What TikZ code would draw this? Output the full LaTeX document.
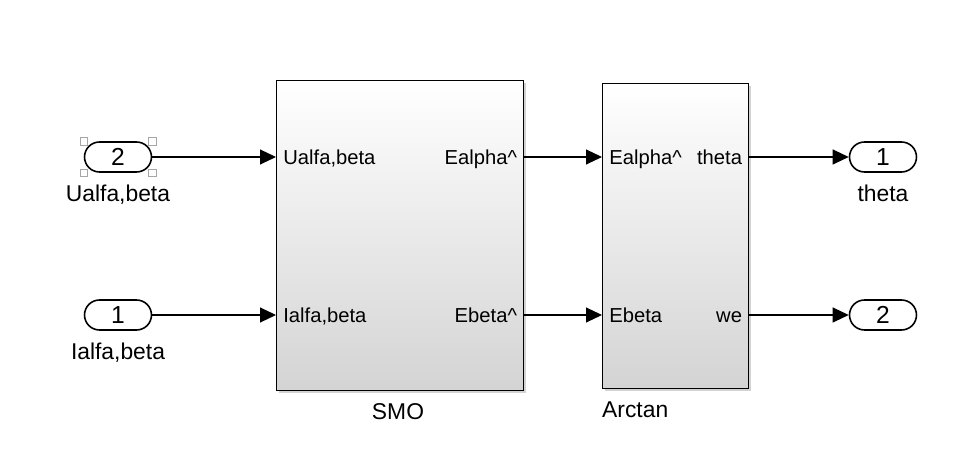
\documentclass[tikz,border=0pt]{standalone}
\usepackage{fontspec}
\setmainfont{Liberation Sans}
\usetikzlibrary{arrows.meta,shadows}

\begin{document}
\begin{tikzpicture}[x=0.02cm,y=-0.02cm,
  port/.style={draw,line width=0.9pt,rounded corners=0.3cm,minimum width=1.34cm,minimum height=0.6cm,inner sep=0pt,font=\fontsize{14}{16}\selectfont},
  blk/.style={draw,line width=0.8pt,anchor=north west,inner sep=0pt,top color=white,middle color=white,bottom color=black!17,
    drop shadow={shadow xshift=0.04cm,shadow yshift=-0.04cm,opacity=0.35}},
  pin/.style={inner xsep=0.14cm,inner ysep=1pt,text height=1.6ex,text depth=0pt,font=\fontsize{11.5}{13}\selectfont},
  title/.style={text height=1.6ex,text depth=0pt,font=\fontsize{13}{15}\selectfont},
  handle/.style={draw=gray!70,fill=white,minimum size=0.15cm,inner sep=0pt},
  sig/.style={-{Triangle[length=0.32cm,width=0.3cm]},line width=0.6pt}]
\useasboundingbox (0,0) rectangle (971,475);
% blocks
\node[blk,minimum width=4.94cm,minimum height=6.2cm] (smo) at (276,80) {};
\node[blk,minimum width=2.92cm,minimum height=6.1cm] (arc) at (602,83) {};
\node[title] at (398,412) {SMO};
\node[title,anchor=west] at (596,410) {Arctan};
% ports
\node[port] (in2) at (118,157) {2};
\node[port] (in1) at (118,315) {1};
\node[port] (out1) at (883,157) {1};
\node[port] (out2) at (883,315) {2};
\node[title] at (118,194) {Ualfa,beta};
\node[title] at (118,352) {Ialfa,beta};
\node[title] at (883,194) {theta};
\foreach \c in {north west,north east,south west,south east}
  \node[handle] at (in2.\c) {};
% port labels
\node[pin,anchor=west] (smoU) at (smo.west |- in2) {Ualfa,beta};
\node[pin,anchor=west] (smoI) at (smo.west |- in1) {Ialfa,beta};
\node[pin,anchor=east] (smoA) at (smo.east |- in2) {Ealpha\^{}};
\node[pin,anchor=east] (smoB) at (smo.east |- in1) {Ebeta\^{}};
\node[pin,anchor=west] (arcA) at (arc.west |- in2) {Ealpha\^{}};
\node[pin,anchor=west] (arcB) at (arc.west |- in1) {Ebeta};
\node[pin,anchor=east] (arcT) at (arc.east |- in2) {theta};
\node[pin,anchor=east] (arcW) at (arc.east |- in1) {we};
% signals
\draw[sig] (in2) -- (smoU);
\draw[sig] (in1) -- (smoI);
\draw[sig] (smoA) -- (arcA);
\draw[sig] (smoB) -- (arcB);
\draw[sig] (arcT) -- (out1);
\draw[sig] (arcW) -- (out2);
\end{tikzpicture}
\end{document}
